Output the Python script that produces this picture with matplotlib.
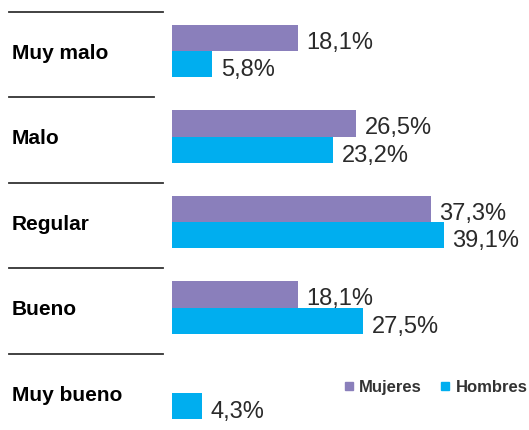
import numpy as np
import matplotlib
matplotlib.use("Agg")
import matplotlib.pyplot as plt
import matplotlib.transforms as mtransforms
from matplotlib.lines import Line2D

plt.rcParams['font.family'] = ['Liberation Sans', 'DejaVu Sans']

# datos
categorias = ["Muy malo", "Malo", "Regular", "Bueno", "Muy bueno"]
mujeres = [18.1, 26.5, 37.3, 18.1, 0.0]
hombres = [5.8, 23.2, 39.1, 27.5, 4.3]
etiquetas_mujeres = ["18,1%", "26,5%", "37,3%", "18,1%", ""]
etiquetas_hombres = ["5,8%", "23,2%", "39,1%", "27,5%", "4,3%"]

c_muj = "#8a7fbb"
c_hom = "#00aeef"
c_txt = "#2a2a2a"

W, H = 529, 431
fig = plt.figure(figsize=(W / 100, H / 100), dpi=100)
fig.patch.set_facecolor("white")

# ejes: barras empiezan en x=172 px, ~6.95 px por %
ax = fig.add_axes([172 / W, 0, 1 - 172 / W, 1])
ax.set_xlim(0, (W - 172) / 6.95)
ax.set_ylim((H - 52) / 85.5, -52 / 85.5)
ax.axis("off")

y = np.arange(len(categorias))
h = 0.305
ax.barh(y - h / 2, mujeres, height=h, color=c_muj)
ax.barh(y + h / 2, hombres, height=h, color=c_hom)

for i in range(len(categorias)):
    if etiquetas_mujeres[i]:
        ax.annotate(etiquetas_mujeres[i], (mujeres[i], y[i] - h / 2),
                    xytext=(6, -1), textcoords="offset points",
                    va="center_baseline", ha="left", fontsize=17, color=c_txt)
    ax.annotate(etiquetas_hombres[i], (hombres[i], y[i] + h / 2),
                xytext=(6, -2), textcoords="offset points",
                va="center_baseline", ha="left", fontsize=17, color=c_txt)

# etiquetas de categoria y lineas separadoras (x en pixeles de figura)
tr = mtransforms.blended_transform_factory(fig.transFigure, ax.transData)
largos = [163, 154, 163, 163, 163]
for i, cat in enumerate(categorias):
    fig.text(12 / W, y[i] - 0.01, cat, transform=tr, va="center_baseline",
             ha="left", fontsize=15, fontweight="bold", color="black")
    ax.add_line(Line2D([9 / W, largos[i] / W], [y[i] - 0.46, y[i] - 0.46],
                       transform=tr, color="#333333", lw=1.3, clip_on=False))

# leyenda
handles = [Line2D([], [], marker="s", ls="", color=c_muj, markersize=6),
           Line2D([], [], marker="s", ls="", color=c_hom, markersize=6)]
leg = fig.legend(handles, ["Mujeres", "Hombres"], loc="center right",
                 bbox_to_anchor=(1.0, 1 - 388 / H), ncol=2, frameon=False,
                 prop={"size": 12, "weight": "bold"}, handletextpad=0.15,
                 columnspacing=1.0, handlelength=0.9, borderaxespad=0.0,
                 borderpad=0.1, labelcolor="#333333")

fig.savefig("out.png", dpi=100)
